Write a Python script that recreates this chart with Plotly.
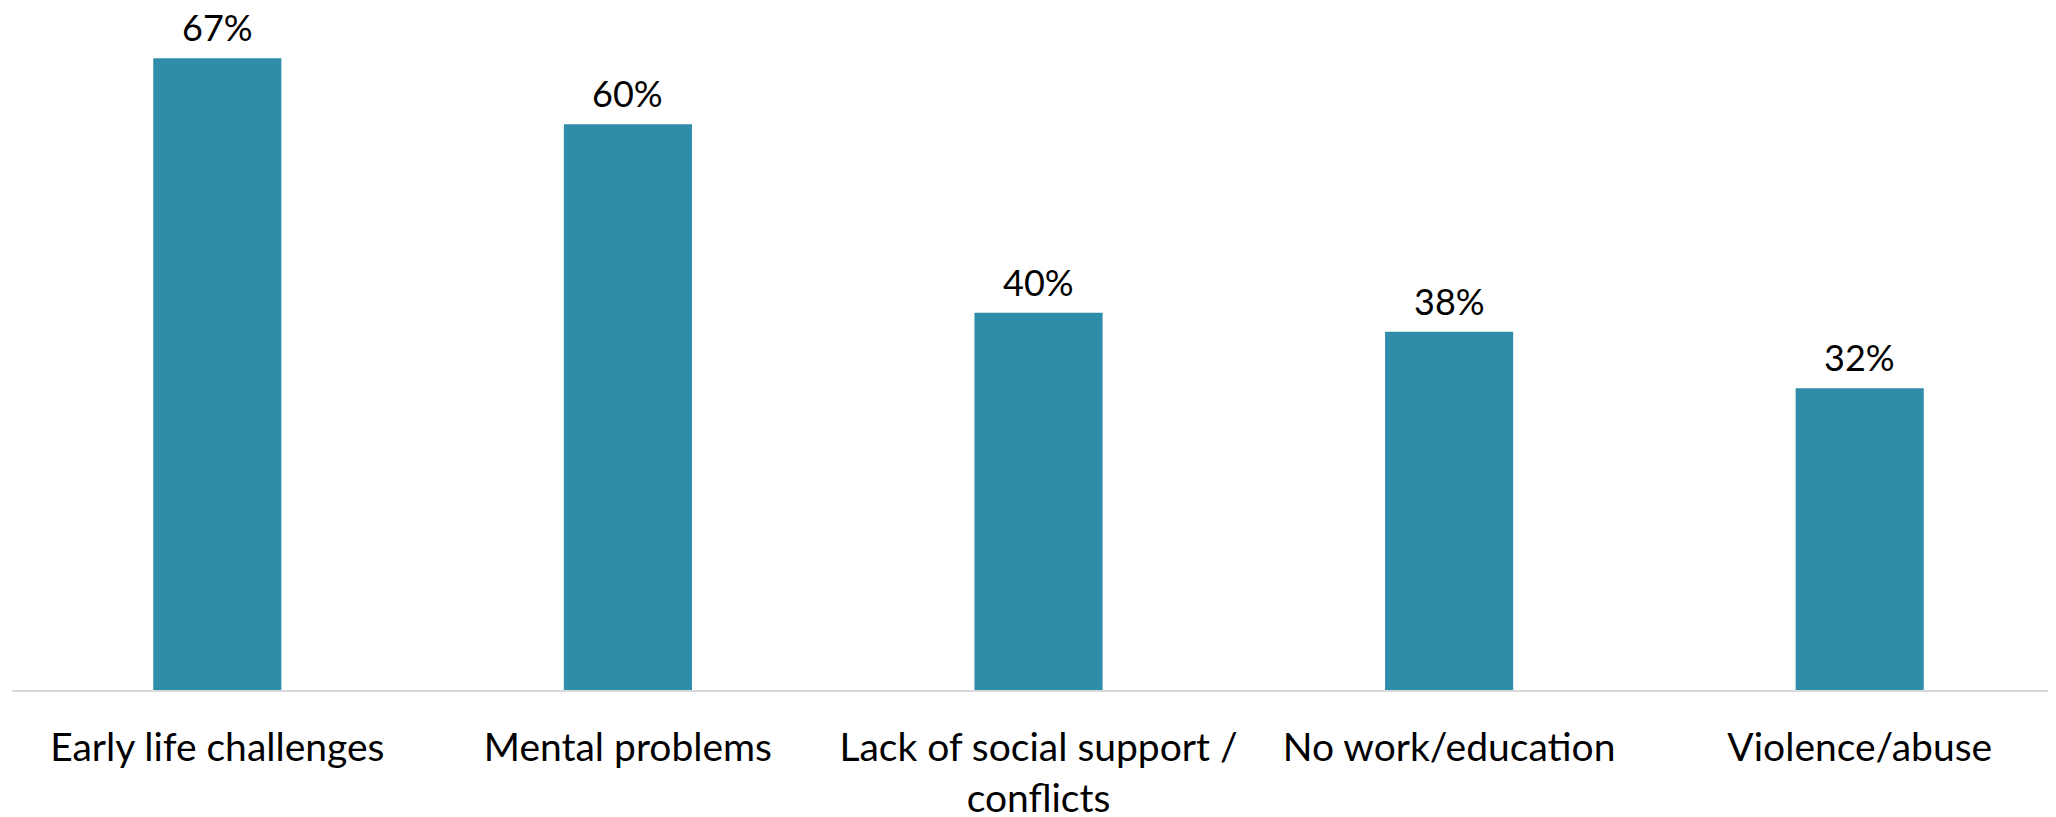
import plotly.graph_objects as go

categories = ["Early life challenges", "Mental problems", "Lack of social support /<br>conflicts",
              "No work/education", "Violence/abuse"]
values = [67, 60, 40, 38, 32]
value_labels = ["67%", "60%", "40%", "38%", "32%"]

BAR_COLOR = "#2E8DA8"
FONT = "Lato, Carlito, Calibri, sans-serif"

fig = go.Figure(go.Bar(
    x=categories,
    y=values,
    marker=dict(color=BAR_COLOR, line=dict(width=0)),
    hoverinfo="x+y",
))

for cat, val, lab in zip(categories, values, value_labels):
    fig.add_annotation(
        x=cat, y=val, text=lab, showarrow=False,
        xanchor="center", yanchor="bottom", yshift=7,
        font=dict(family=FONT, size=36, color="#000000"),
    )

fig.update_layout(
    width=2056,
    height=817,
    margin=dict(l=4, r=0, t=12, b=135),
    paper_bgcolor="white",
    plot_bgcolor="white",
    bargap=0.688,
    showlegend=False,
    font=dict(family=FONT, size=39, color="#000000"),
)
fig.update_xaxes(
    range=[-0.5, 4.4975],
    showline=True, linecolor="#D9D9D9", linewidth=2,
    showgrid=False, ticks="", automargin=False,
    ticklabelstandoff=22,
    tickfont=dict(family=FONT, size=39, color="#000000"),
)
fig.update_yaxes(
    range=[0, 71.05],
    visible=False, showgrid=False, zeroline=False,
)

fig.write_html("out.html")
